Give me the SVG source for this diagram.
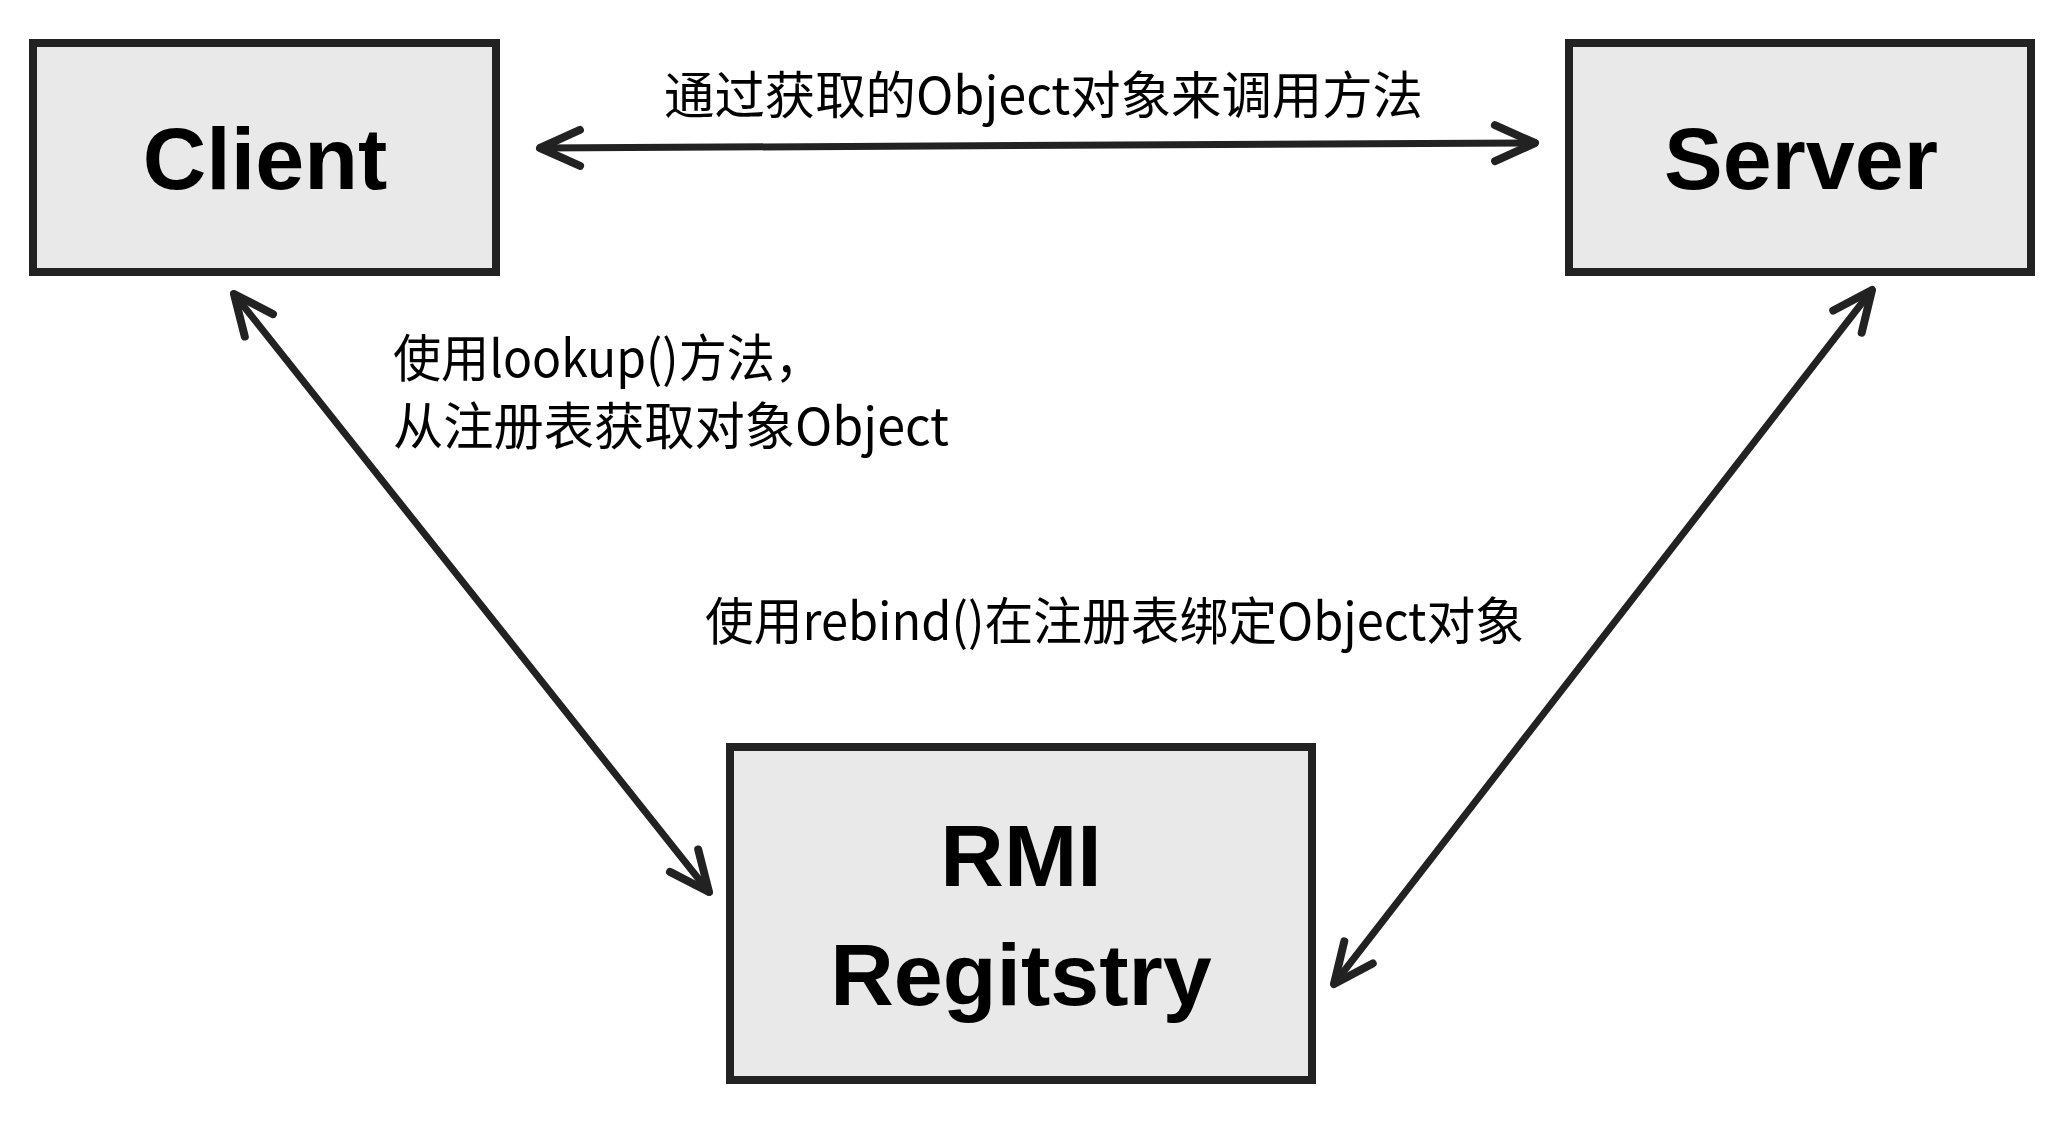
<svg xmlns="http://www.w3.org/2000/svg" width="2063" height="1123" viewBox="0 0 2063 1123">
  <style>
    .box { fill: #e9e9e9; stroke: #222222; stroke-width: 8; }
    .title { font-family: "Liberation Sans", Arial, sans-serif; font-weight: bold; font-size: 88px; fill: #000000; text-anchor: middle; }
    .label { font-family: "Noto Sans CJK SC", "Noto Sans", sans-serif; font-size: 51px; fill: #000000; }
    .conn { fill: none; stroke: #222222; stroke-width: 7; stroke-linecap: round; marker-start: url(#head); marker-end: url(#head); }
  </style>
  <defs>
    <marker id="head" markerUnits="userSpaceOnUse" markerWidth="60" markerHeight="60" refX="0" refY="0" orient="auto-start-reverse" overflow="visible">
      <path d="M -40 -18 L 0 0 L -40 18" fill="none" stroke="#222222" stroke-width="8" stroke-linecap="round" stroke-linejoin="round"/>
    </marker>
  </defs>
  <rect width="2063" height="1123" fill="#ffffff"/>

  <g id="connectors">
    <line class="conn" x1="540" y1="148" x2="1535" y2="143"/>
    <line class="conn" x1="234" y1="294" x2="709" y2="892"/>
    <line class="conn" x1="1872" y1="290" x2="1334" y2="984"/>
  </g>

  <g id="client">
    <rect class="box" x="33" y="43" width="463" height="229"/>
    <text class="title" x="265" y="189">Client</text>
  </g>

  <g id="server">
    <rect class="box" x="1569" y="43" width="462" height="229"/>
    <text class="title" x="1801" y="189">Server</text>
  </g>

  <g id="rmi-registry">
    <rect class="box" x="730" y="747" width="582" height="333"/>
    <text class="title" x="1021" y="886">RMI</text>
    <text class="title" x="1021" y="1005">Regitstry</text>
  </g>

  <g id="labels">
    <text class="label" x="664" y="114" textLength="759" lengthAdjust="spacingAndGlyphs">通过获取的Object对象来调用方法</text>
    <text class="label" x="393" y="377" textLength="430" lengthAdjust="spacingAndGlyphs">使用lookup()方法，</text>
    <text class="label" x="393" y="445" textLength="556" lengthAdjust="spacingAndGlyphs">从注册表获取对象Object</text>
    <text class="label" x="705" y="640" textLength="819" lengthAdjust="spacingAndGlyphs">使用rebind()在注册表绑定Object对象</text>
  </g>
</svg>
